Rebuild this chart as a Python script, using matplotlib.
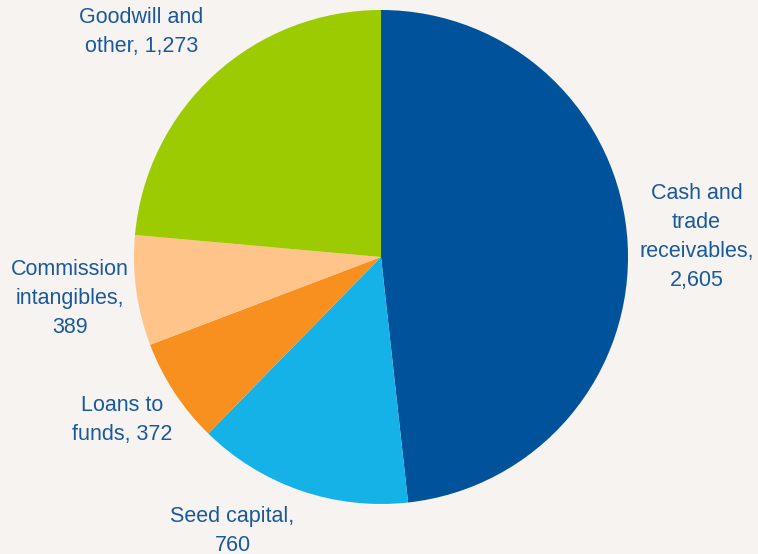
import numpy as np
import matplotlib
matplotlib.use("Agg")
import matplotlib.pyplot as plt

categories = ["Cash and\ntrade\nreceivables", "Seed capital", "Loans to\nfunds",
              "Commission\nintangibles", "Goodwill and\nother"]
values = [2605, 760, 372, 389, 1273]
colors = ["#00529B", "#15B2E8", "#F7901E", "#FFC489", "#9BCB00"]

# whether the value goes on its own line below the category name
value_own_line = [True, True, False, True, False]
# label placement: (angle in degrees, radial distance)
label_pos = [(3.6, 1.28), (-118.5, 1.26), (-147.8, 1.24), (-172.4, 1.27), (136.8, 1.33)]

bg = "#F6F3F1"
text_color = "#1B5A9A"

plt.rcParams["font.family"] = ["Liberation Sans", "DejaVu Sans"]

fig = plt.figure(figsize=(7.58, 5.54), dpi=100, facecolor=bg)
ax = fig.add_axes([134 / 758, 50 / 554, 494 / 758, 494 / 554])
ax.set_facecolor(bg)

ax.pie(values, colors=colors, startangle=90, counterclock=False, radius=1,
       wedgeprops=dict(linewidth=0))

for cat, val, own, (ang, dist) in zip(categories, values, value_own_line, label_pos):
    label = f"{cat},{chr(10) if own else ' '}{val:,}"
    a = np.deg2rad(ang)
    ax.text(dist * np.cos(a), dist * np.sin(a), label, ha="center", va="center",
            fontsize=15.5, color=text_color, linespacing=1.5)

ax.set_xlim(-1, 1)
ax.set_ylim(-1, 1)
ax.set_aspect("equal")
ax.axis("off")

fig.savefig("out.png", dpi=100, facecolor=bg)
